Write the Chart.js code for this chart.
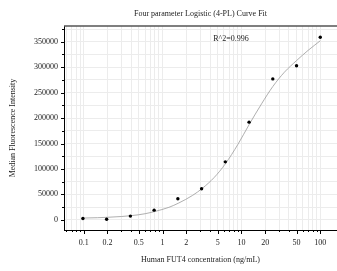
<!DOCTYPE html>
<html>
<head>
<meta charset="utf-8">
<script src="https://cdn.jsdelivr.net/npm/chart.js@4"></script>
<style>
  html, body { margin: 0; padding: 0; background: #fff; }
  #wrap { width: 337px; height: 271px; }
</style>
</head>
<body>
<div id="wrap"><canvas id="grafica" width="337" height="271"></canvas></div>
<script>
// datos
const concentraciones = [100, 50, 25, 12.5, 6.25, 3.125, 1.5625, 0.78125, 0.390625, 0.1953125, 0.09765625];
const intensidades = [359000, 303000, 277000, 192000, 114000, 61000, 41300, 19000, 7300, 1000, 2500];

// curva ajustada (valores leidos sobre la linea)
const curvaX = [0.1, 0.15, 0.2, 0.3, 0.4, 0.6, 0.8, 1.2, 1.6, 2.4, 3.2, 4.5, 6.25, 9, 12.5, 18, 25, 35, 50, 70, 100];
const curvaY = [3500, 4200, 5000, 6500, 8200, 12000, 16500, 24500, 33000, 48000, 62000, 83000, 110000, 148000, 187000, 228000, 262000, 290000, 313000, 333000, 352000];

const ticksX = [0.06, 0.07, 0.08, 0.09, 0.1, 0.2, 0.3, 0.4, 0.5, 0.6, 0.7, 0.8, 0.9,
  1, 2, 3, 4, 5, 6, 7, 8, 9, 10, 20, 30, 40, 50, 60, 70, 80, 90, 100];
const etiquetasX = [0.1, 0.2, 0.5, 1, 2, 5, 10, 20, 50, 100];
const ticksY = [0, 25000, 50000, 75000, 100000, 125000, 150000, 175000, 200000,
  225000, 250000, 275000, 300000, 325000, 350000, 375000];
const etiquetasY = [0, 50000, 100000, 150000, 200000, 250000, 300000, 350000];

const fuente = 'Liberation Serif';

// marcas de los ejes, borde superior y texto R^2
const marcas = {
  id: 'marcas',
  afterDraw(chart) {
    const ctx = chart.ctx;
    const area = chart.chartArea;
    const x = chart.scales.x;
    const y = chart.scales.y;
    ctx.save();
    ctx.strokeStyle = '#000';
    ctx.lineWidth = 1;
    ctx.beginPath();
    ticksX.forEach(v => {
      const px = Math.round(x.getPixelForValue(v)) + 0.5;
      const largo = etiquetasX.includes(v) ? 4 : 2;
      ctx.moveTo(px, area.bottom);
      ctx.lineTo(px, area.bottom + largo);
    });
    ticksY.forEach(v => {
      const py = Math.round(y.getPixelForValue(v)) + 0.5;
      const largo = etiquetasY.includes(v) ? 3 : 2;
      ctx.moveTo(area.left, py);
      ctx.lineTo(area.left - largo, py);
    });
    ctx.stroke();

    ctx.strokeStyle = '#555';
    ctx.lineWidth = 1.5;
    ctx.beginPath();
    ctx.moveTo(area.left, area.top);
    ctx.lineTo(area.right, area.top);
    ctx.stroke();

    ctx.fillStyle = '#222';
    ctx.font = '8px "' + fuente + '"';
    ctx.textAlign = 'center';
    ctx.textBaseline = 'middle';
    ctx.fillText('R^2=0.996', area.left + 167, area.top + 13);
    ctx.restore();
  }
};

new Chart(document.getElementById('grafica'), {
  type: 'scatter',
  data: {
    datasets: [{
      label: 'Ajuste 4-PL',
      data: curvaX.map((c, i) => ({ x: c, y: curvaY[i] })),
      showLine: true,
      borderColor: '#9a9a9a',
      borderWidth: 0.8,
      pointRadius: 0,
      cubicInterpolationMode: 'monotone',
      order: 2
    }, {
      label: 'Datos',
      data: concentraciones.map((c, i) => ({ x: c, y: intensidades[i] })),
      backgroundColor: '#000',
      borderColor: '#000',
      pointRadius: 1.7,
      pointBorderWidth: 0,
      order: 1
    }]
  },
  options: {
    responsive: false,
    animation: false,
    layout: { autoPadding: false, padding: 0 },
    plugins: {
      legend: { display: false },
      tooltip: { enabled: false },
      title: {
        display: true,
        text: 'Four parameter Logistic (4-PL) Curve Fit',
        fullSize: false,
        color: '#222',
        font: { family: fuente, size: 8, weight: 'normal', lineHeight: 1.2 },
        padding: { top: 9, bottom: 7.4 }
      }
    },
    scales: {
      x: {
        type: 'logarithmic',
        min: 0.0562,
        max: 163,
        afterBuildTicks: scale => { scale.ticks = ticksX.map(v => ({ value: v })); },
        afterFit: scale => {
          scale.height = 41;
          scale.paddingLeft = 0;
          scale.paddingRight = 0;
        },
        border: { display: true, color: '#000', width: 1 },
        grid: { color: '#ececec', lineWidth: 1, drawTicks: false },
        ticks: {
          autoSkip: false,
          maxRotation: 0,
          padding: 8,
          color: '#222',
          font: { family: fuente, size: 8 },
          callback: v => etiquetasX.includes(v) ? String(v) : ''
        },
        title: {
          display: true,
          text: 'Human FUT4 concentration (ng/mL)',
          color: '#222',
          font: { family: fuente, size: 8, lineHeight: 1.2 },
          padding: { top: 0, bottom: 6.2 }
        }
      },
      y: {
        min: -20000,
        max: 381000,
        afterBuildTicks: scale => { scale.ticks = ticksY.map(v => ({ value: v })); },
        afterFit: scale => {
          scale.width = 64;
          scale.paddingTop = 0;
          scale.paddingBottom = 0;
        },
        border: { display: true, color: '#000', width: 1 },
        grid: { color: '#ececec', lineWidth: 1, drawTicks: false },
        ticks: {
          autoSkip: false,
          padding: 6,
          color: '#222',
          font: { family: fuente, size: 8 },
          callback: v => etiquetasY.includes(v) ? String(v) : ''
        },
        title: {
          display: true,
          text: 'Median Fluorescence Intensity',
          color: '#222',
          font: { family: fuente, size: 8, lineHeight: 1.2 },
          padding: { top: 8.2, bottom: 0 }
        }
      }
    }
  },
  plugins: [marcas]
});
</script>
</body>
</html>
